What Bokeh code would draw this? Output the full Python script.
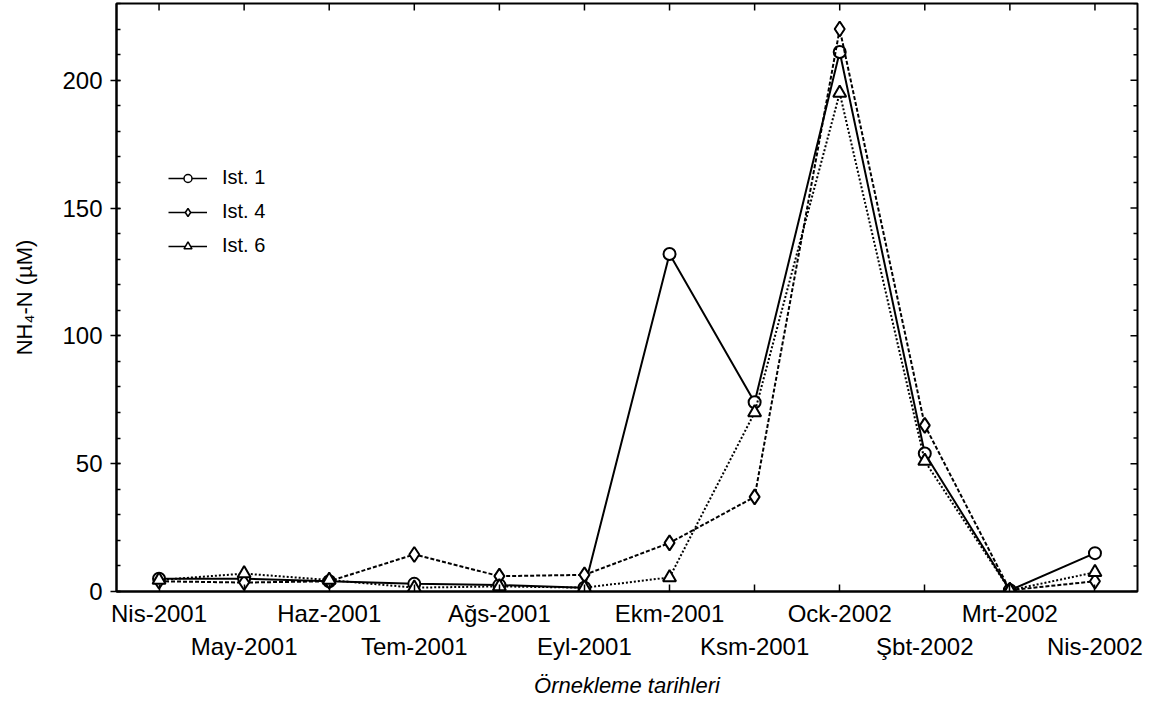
import math
from bokeh.plotting import figure
from bokeh.models import Range1d, LinearAxis, FixedTicker, Legend, LegendItem
from bokeh.embed import file_html
from bokeh.resources import INLINE

# ---- data ----
months = ["Nis-2001", "May-2001", "Haz-2001", "Tem-2001", "Ağs-2001", "Eyl-2001",
          "Ekm-2001", "Ksm-2001", "Ock-2002", "Şbt-2002", "Mrt-2002", "Nis-2002"]
ist1 = [5, 5, 4, 3, 2.5, 1.5, 132, 74, 211, 54, 0.5, 15]
ist4 = [4, 3.5, 4, 14.5, 6, 6.5, 19, 37, 220, 65, 0.5, 4]
ist6 = [4.5, 7, 4.5, 1.5, 2, 1.5, 5.5, 70, 195, 51, 0.5, 7.5]
y_ticks = [0, 50, 100, 150, 200]
y_minor = list(range(0, 231, 10))
series_names = ["Ist. 1", "Ist. 4", "Ist. 6"]

idx = list(range(len(months)))
FONT = "Liberation Sans"

W, H = 1153, 705
ML, MR, MT, MB = 116, 16, 3, 114
X0, X1 = -0.5, len(months) - 0.5
Y0, Y1 = 0, 230
fw, fh = W - ML - MR, H - MT - MB
dx_px = (X1 - X0) / fw   # data units per pixel (x)
dy_px = (Y1 - Y0) / fh   # data units per pixel (y)

p = figure(width=W, height=H, x_range=Range1d(X0, X1), y_range=Range1d(Y0, Y1),
           output_backend="svg", toolbar_location=None,
           x_axis_location=None, y_axis_location=None,
           min_border_left=ML, min_border_right=MR, min_border_top=MT, min_border_bottom=MB,
           background_fill_color="white", border_fill_color="white")
p.xgrid.visible = False
p.ygrid.visible = False
p.outline_line_color = "black"
p.outline_line_width = 2

# left axis
la = LinearAxis(ticker=FixedTicker(ticks=y_ticks, minor_ticks=y_minor),
                axis_label="NH₄-N (µM)")
la.axis_line_width = 2
la.major_tick_out = 6
la.major_tick_in = 4
la.minor_tick_in = 4
la.minor_tick_out = 0
la.major_tick_line_width = 1.5
la.minor_tick_line_width = 1.5
la.major_label_standoff = 8
la.major_label_text_font = FONT
la.major_label_text_font_size = "24px"
la.major_label_text_color = "black"
la.axis_label_text_font = FONT
la.axis_label_text_font_size = "22px"
la.axis_label_text_font_style = "normal"
la.axis_label_text_color = "black"
la.axis_label_standoff = 22
p.add_layout(la, "left")

# bottom axis: two rows of labels (odd months on the second line)
labels = {i: (months[i] if i % 2 == 0 else "\n" + months[i]) for i in idx}
ba = LinearAxis(ticker=FixedTicker(ticks=idx, minor_ticks=[]),
                major_label_overrides=labels, axis_label="Örnekleme tarihleri")
ba.axis_line_width = 2
ba.major_tick_out = 0
ba.major_tick_in = 7
ba.major_tick_line_width = 1.5
ba.minor_tick_line_color = None
ba.major_label_standoff = 8
ba.major_label_text_font = FONT
ba.major_label_text_font_size = "24px"
ba.major_label_text_color = "black"
ba.major_label_text_line_height = 1.25
ba.axis_label_text_font = FONT
ba.axis_label_text_font_size = "22px"
ba.axis_label_text_font_style = "italic"
ba.axis_label_text_color = "black"
ba.axis_label_standoff = 10
p.add_layout(ba, "below")

# mirrored ticks on the top and right frame edges
p.segment(x0=idx, y0=[Y1] * len(idx), x1=idx, y1=[Y1 - 7 * dy_px] * len(idx),
          line_color="black", line_width=1.5)
r_len = [7 if v in y_ticks else 4 for v in y_minor]
p.segment(x0=[X1] * len(y_minor), y0=y_minor, x1=[X1 - l * dx_px for l in r_len], y1=y_minor,
          line_color="black", line_width=1.5)

# series
styles = [
    (ist1, "solid", "circle", 12),
    (ist4, "4 2", "diamond", 15),
    (ist6, "2 2", "triangle", 13),
]
items = []
nan = float("nan")
for (vals, dash, marker, size), name in zip(styles, series_names):
    p.line(idx, vals, line_color="black", line_width=2, line_dash=dash)
    p.scatter(idx, vals, marker=marker, size=size, fill_color="white",
              line_color="black", line_width=2)
    # legend sample (solid line with marker)
    lr = p.line(x=[nan], y=[nan], line_color="black", line_width=1.5)
    sr = p.scatter(x=[nan], y=[nan], marker=marker, size=size - 1, fill_color="white",
                   line_color="black", line_width=1.5)
    items.append(LegendItem(label=name, renderers=[lr, sr]))

legend = Legend(items=items, location=(52, 334), border_line_color=None,
                background_fill_alpha=0, label_text_font=FONT, label_text_font_size="20px",
                label_text_color="black",
                glyph_width=39, glyph_height=20, label_height=20, spacing=11,
                padding=0, margin=0, label_standoff=15)
p.add_layout(legend)

open("out.html", "w").write(file_html(p, INLINE))
